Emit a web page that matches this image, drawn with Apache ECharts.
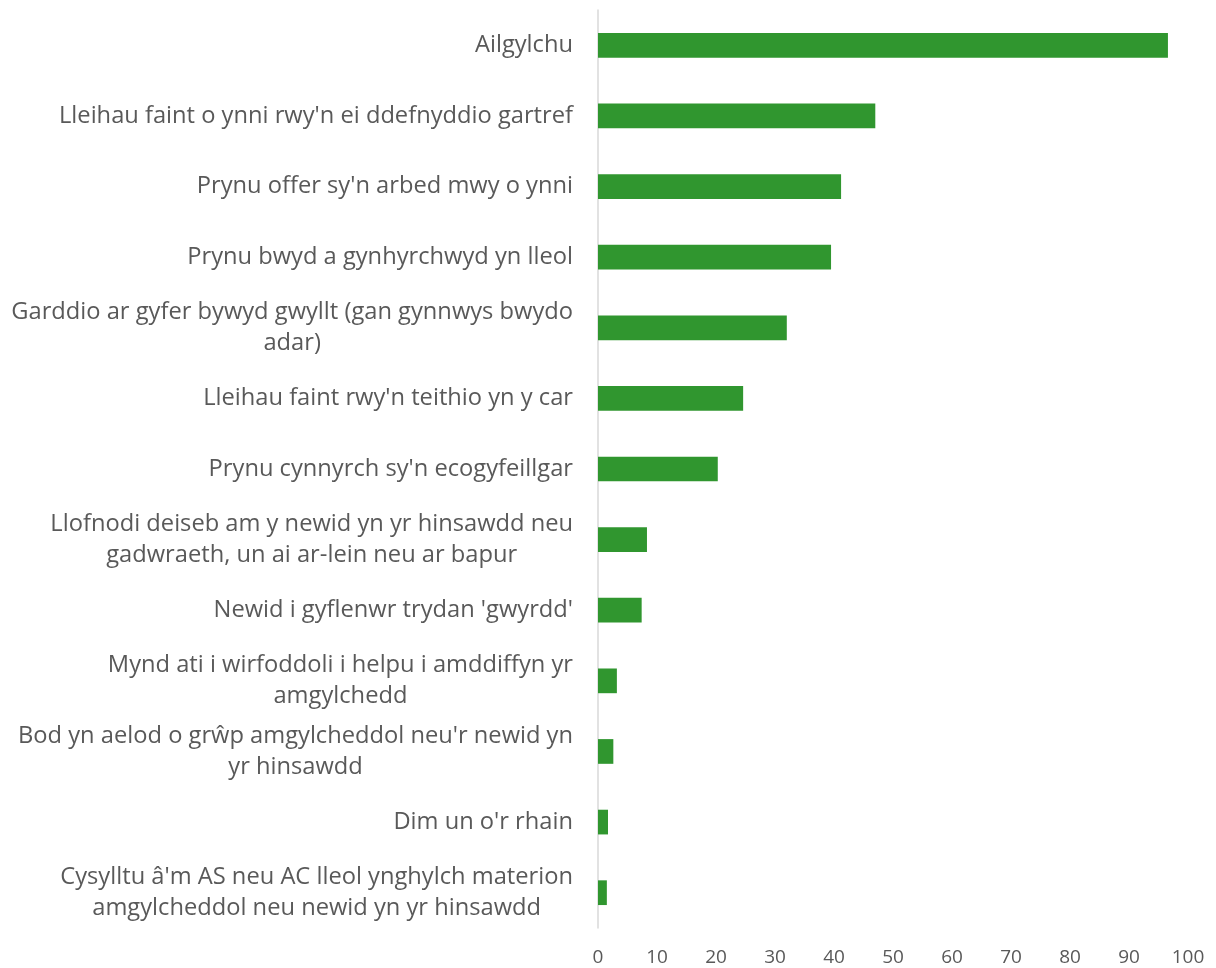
<!DOCTYPE html>
<html><head><meta charset="utf-8">
<script src="https://cdn.jsdelivr.net/npm/echarts@6/dist/echarts.min.js"></script>
<style>html,body{margin:0;padding:0;background:#fff}#c{width:1216px;height:968px}</style>
</head><body><div id="c"></div>
<script>
const categories = [
  "Ailgylchu",
  "Lleihau faint o ynni rwy'n ei ddefnyddio gartref",
  "Prynu offer sy'n arbed mwy o ynni",
  "Prynu bwyd a gynhyrchwyd yn lleol",
  "Garddio ar gyfer bywyd gwyllt (gan gynnwys bwydo\nadar)",
  "Lleihau faint rwy'n teithio yn y car",
  "Prynu cynnyrch sy'n ecogyfeillgar",
  "Llofnodi deiseb am y newid yn yr hinsawdd neu\ngadwraeth, un ai ar-lein neu ar bapur",
  "Newid i gyflenwr trydan 'gwyrdd'",
  "Mynd ati i wirfoddoli i helpu i amddiffyn yr\namgylchedd",
  "Bod yn aelod o grŵp amgylcheddol neu'r newid yn\nyr hinsawdd",
  "Dim un o'r rhain",
  "Cysylltu â'm AS neu AC lleol ynghylch materion\namgylcheddol neu newid yn yr hinsawdd"
];
const values = [96.6, 47, 41.2, 39.5, 32, 24.6, 20.3, 8.3, 7.4, 3.2, 2.6, 1.7, 1.5];
const xTicks = { min: 0, max: 100, interval: 10 };

const chart = echarts.init(document.getElementById('c'), null, { renderer: 'canvas' });
const FONT = 'Open Sans';
chart.setOption({
  animation: false,
  grid: { left: 598, right: 28, top: 10, bottom: 40, containLabel: false },
  xAxis: {
    type: 'value', min: xTicks.min, max: xTicks.max, interval: xTicks.interval,
    axisLine: { show: false }, axisTick: { show: false }, splitLine: { show: false },
    axisLabel: { color: '#595959', fontFamily: FONT, fontSize: 19, margin: 20 }
  },
  yAxis: {
    type: 'category', data: categories, inverse: true,
    axisLine: { show: true, lineStyle: { color: '#d9d9d9', width: 1.5 } },
    axisTick: { show: false },
    axisLabel: {
      margin: 25, align: 'right', color: '#595959', fontFamily: FONT, fontSize: 23.7,
      formatter: v => v.split('\n').map(l => '{c|' + l + '}').join('\n'),
      rich: { c: { align: 'center', color: '#595959', fontFamily: FONT, fontSize: 23.7, lineHeight: 31 } }
    }
  },
  series: [{
    type: 'bar', data: values, barWidth: '35%',
    itemStyle: { color: '#30962F' }
  }]
});
</script></body></html>
